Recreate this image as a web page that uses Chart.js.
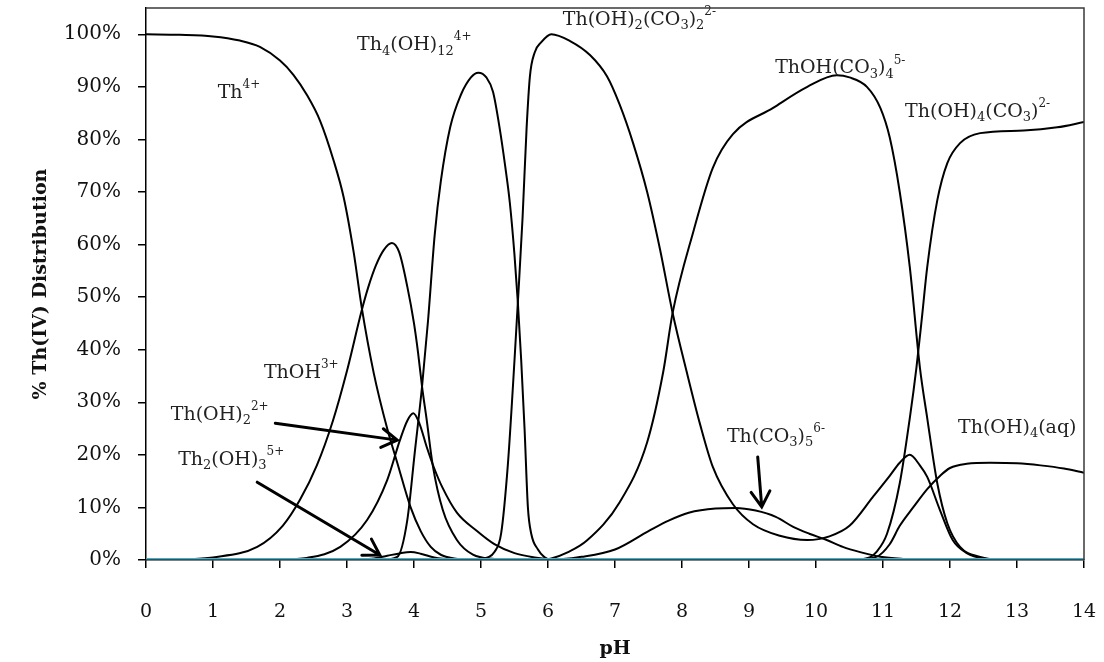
<!DOCTYPE html>
<html><head><meta charset="utf-8">
<script src="https://cdn.jsdelivr.net/npm/chart.js@4.4.1/dist/chart.umd.min.js"></script>
<style>html,body{margin:0;padding:0;background:#fff}</style>
</head><body>
<canvas id="c" width="1104" height="662"></canvas>
<script>
// ---- data (pH, % of Th(IV)) ----
const xTicks = [0,1,2,3,4,5,6,7,8,9,10,11,12,13,14];
const yTicks = [0,10,20,30,40,50,60,70,80,90,100];

const phTh4 = [0,0.5,1.0,1.4,1.7,2.0,2.2,2.4,2.6,2.8,2.95,3.1,3.22,3.4,3.6,3.75,3.95,4.1,4.25,4.4,4.6,5.0,14];
const vTh4  = [100,99.9,99.6,98.8,97.6,95,92.3,88.5,83.5,76,69,58.5,48,35.5,25,18.5,10,5.5,2.5,1,0.3,0,0];

const phThOH = [0,0.5,1.0,1.66,2.04,2.3,2.55,2.79,3.0,3.22,3.32,3.43,3.55,3.67,3.78,3.9,4.0,4.06,4.12,4.19,4.28,4.43,4.64,4.88,5.2,5.6,14];
const vThOH  = [0,0.1,0.5,2.5,6.5,11.5,18,26.5,36,47.5,52,56,59,60.3,58.5,52,45,39.5,33,26.6,18,9.5,3.8,1,0.2,0,0];

const phThOH2 = [0,2.0,2.4,2.9,3.3,3.6,3.79,3.9,3.99,4.08,4.19,4.3,4.42,4.64,4.94,5.2,5.5,5.8,6.1,6.5,14];
const vThOH2  = [0,0.1,0.4,2.5,7.6,15.2,22.8,26.5,27.9,26,21.5,17.5,13.9,9,5.5,3,1.3,0.5,0.1,0,0];

const phTh2OH3 = [0,3.0,3.4,3.6,3.8,3.95,4.1,4.3,4.6,5.0,14];
const vTh2OH3  = [0,0,0.3,0.8,1.3,1.5,1.2,0.5,0.1,0,0];

const phTh4OH12 = [0,3.5,3.75,3.9,4.01,4.12,4.21,4.31,4.4,4.54,4.7,4.85,4.96,5.08,5.18,5.28,5.36,5.43,5.5,5.55,5.6,5.65,5.7,5.75,5.85,5.95,6.05,14];
const vTh4OH12  = [0,0,0.6,7.6,20.3,33,45.6,62,72,82.3,88.5,91.8,92.7,91.8,89,82,75,68,58,49,38,25,10,5,2,0.5,0,0];

const phThOH2CO3 = [0,4.9,5.1,5.2,5.3,5.4,5.5,5.55,5.62,5.68,5.73,5.8,5.9,6.05,6.33,6.63,6.88,7.07,7.27,7.48,7.67,7.86,8.07,8.27,8.46,8.76,9.06,9.46,9.87,10.2,10.5,10.85,11.1,11.25,11.4,11.55,11.66,11.85,12.04,12.25,12.5,13,14];
const vThOH2CO3  = [0,0,0.5,1.5,5,18,38,49,65,82,92,96.5,98.5,100,98.7,96,92,86.6,79.3,70,59.2,47,35.8,25.8,17.7,10.6,6.8,4.6,3.8,4.5,6.5,12,16,18.5,20,18,15.8,9.5,3.8,1.3,0.3,0,0];

const phThOHCO34 = [0,5.9,6.05,6.3,6.58,7.07,7.48,7.72,7.86,8.17,8.46,8.76,9.36,9.87,10.31,10.5,10.76,10.96,11.1,11.25,11.4,11.55,11.66,11.81,11.96,12.15,12.45,12.8,14];
const vThOHCO34  = [0,0,0.3,1.5,3.7,11,22.4,35.8,47,62.5,74.6,81,86,90,92.2,91.8,90,86,80.4,70,55.7,36.7,27,14.6,7,2.5,0.6,0,0];

const phThCO35 = [0,6.0,6.5,7.0,7.5,7.8,8.1,8.5,8.8,9.1,9.4,9.66,9.9,10.16,10.4,10.66,10.96,11.3,11.8,14];
const vThCO35  = [0,0,0.6,2,5.5,7.5,9,9.8,9.9,9.4,8.2,6.3,5,3.8,2.5,1.5,0.6,0.2,0,0];

const phThOH4CO3 = [0,10.5,10.8,10.9,11.06,11.25,11.4,11.5,11.58,11.66,11.81,11.96,12.15,12.45,13.1,13.6,14];
const vThOH4CO3  = [0,0,0.5,1.5,5,14.6,27,36.7,46,55.7,68.4,75.5,79.3,81.2,81.7,82.3,83.3];

const phThOH4aq = [0,10.5,10.9,11.1,11.25,11.45,11.66,11.85,12.0,12.25,12.6,13.0,13.35,13.7,14];
const vThOH4aq  = [0,0,0.6,3,6.5,10,13.5,16,17.5,18.3,18.5,18.4,18,17.4,16.6];

const phOther = [0,14];
const vOther  = [0.25,0.25];

// ---- annotations (pH, %) ----
const speciesLabels = [
  {t:'Th^{4+}', x:1.07, y:88.8},
  {t:'Th_{4}(OH)_{12}^{4+}', x:3.15, y:97.9},
  {t:'Th(OH)_{2}(CO_{3})_{2}^{2-}', x:6.22, y:102.7},
  {t:'ThOH(CO_{3})_{4}^{5-}', x:9.39, y:93.5},
  {t:'Th(OH)_{4}(CO_{3})^{2-}', x:11.33, y:85.2},
  {t:'ThOH^{3+}', x:1.76, y:35.6},
  {t:'Th(OH)_{2}^{2+}', x:0.37, y:27.6},
  {t:'Th_{2}(OH)_{3}^{5+}', x:0.48, y:19.0},
  {t:'Th(CO_{3})_{5}^{6-}', x:8.67, y:23.4},
  {t:'Th(OH)_{4}(aq)', x:12.12, y:25.1}
];
const arrows = [
  {x1:1.93, y1:26.0, x2:3.75, y2:22.8},
  {x1:1.66, y1:14.8, x2:3.49, y2:0.95},
  {x1:9.13, y1:19.6, x2:9.19, y2:10.1}
];

const FONT = "'DejaVu Serif', serif";

function pts(xs, ys){ return xs.map((x,i)=>({x:x, y:ys[i]})); }
function ds(xs, ys, color, w){
  return {data:pts(xs,ys), borderColor:color, borderWidth:w, pointRadius:0,
          showLine:true, fill:false, cubicInterpolationMode:'monotone'};
}
function noPad(s){ s.paddingTop = 0; s.paddingBottom = 0; s.paddingLeft = 0; s.paddingRight = 0; }

const frame = {
  id:'frame',
  afterDraw(chart){
    const {ctx, chartArea:a} = chart;
    ctx.save();
    ctx.strokeStyle = '#3a3a3a';
    ctx.lineWidth = 1.5;
    ctx.beginPath();
    ctx.moveTo(a.left, a.top); ctx.lineTo(a.right, a.top); ctx.lineTo(a.right, a.bottom);
    ctx.stroke();
    ctx.restore();
  }
};

function drawRich(ctx, str, x, y){
  const re = /(_\{[^}]*\}|\^\{[^}]*\}|[^_^]+)/g;
  const parts = str.match(re);
  let cx = x;
  for (const p of parts){
    if (p.startsWith('_{')){
      ctx.font = "13px " + FONT;
      const s = p.slice(2,-1);
      ctx.fillText(s, cx, y + 6);
      cx += ctx.measureText(s).width;
    } else if (p.startsWith('^{')){
      ctx.font = "12px " + FONT;
      const s = p.slice(2,-1);
      ctx.fillText(s, cx, y - 8);
      cx += ctx.measureText(s).width;
    } else {
      ctx.font = "19px " + FONT;
      ctx.fillText(p, cx, y);
      cx += ctx.measureText(p).width;
    }
  }
}

const annot = {
  id:'annot',
  afterDatasetsDraw(chart){
    const {ctx, scales:{x, y}} = chart;
    ctx.save();
    ctx.fillStyle = '#222';
    ctx.textBaseline = 'middle';
    ctx.textAlign = 'left';
    for (const l of speciesLabels){
      drawRich(ctx, l.t, x.getPixelForValue(l.x), y.getPixelForValue(l.y));
    }
    ctx.strokeStyle = '#000';
    ctx.lineWidth = 3;
    ctx.lineCap = 'round';
    for (const a of arrows){
      const x1 = x.getPixelForValue(a.x1), y1 = y.getPixelForValue(a.y1);
      const x2 = x.getPixelForValue(a.x2), y2 = y.getPixelForValue(a.y2);
      const ang = Math.atan2(y2-y1, x2-x1);
      const L = 18, sp = 0.55;
      ctx.beginPath();
      ctx.moveTo(x1,y1); ctx.lineTo(x2,y2);
      ctx.moveTo(x2 - L*Math.cos(ang-sp), y2 - L*Math.sin(ang-sp));
      ctx.lineTo(x2,y2);
      ctx.lineTo(x2 - L*Math.cos(ang+sp), y2 - L*Math.sin(ang+sp));
      ctx.stroke();
    }
    ctx.restore();
  }
};

new Chart(document.getElementById('c'), {
  type:'scatter',
  data:{datasets:[
    ds(phOther, vOther, '#4BACC6', 1.5),
    ds(phTh4, vTh4, '#000', 2),
    ds(phThOH, vThOH, '#000', 2),
    ds(phThOH2, vThOH2, '#000', 2),
    ds(phTh2OH3, vTh2OH3, '#000', 2),
    ds(phTh4OH12, vTh4OH12, '#000', 2),
    ds(phThOH2CO3, vThOH2CO3, '#000', 2),
    ds(phThOHCO34, vThOHCO34, '#000', 2),
    ds(phThCO35, vThCO35, '#000', 2),
    ds(phThOH4CO3, vThOH4CO3, '#000', 2),
    ds(phThOH4aq, vThOH4aq, '#000', 2)
  ]},
  options:{
    responsive:false, animation:false, devicePixelRatio:1,
    layout:{autoPadding:false, padding:{top:8, right:20, left:0, bottom:0}},
    plugins:{legend:{display:false}, tooltip:{enabled:false}},
    scales:{
      x:{type:'linear', min:0, max:14,
         afterFit(s){ s.height = 102; noPad(s); },
         afterBuildTicks(s){ s.ticks = xTicks.map(v=>({value:v})); },
         border:{display:true, color:'#000', width:1.5},
         grid:{display:true, drawOnChartArea:false, drawTicks:true, tickLength:8, color:'#000', lineWidth:1.5},
         ticks:{color:'#111', font:{family:FONT, size:19}, padding:33, maxRotation:0, callback:v=>String(v)},
         title:{display:true, text:'pH', color:'#111', font:{family:FONT, size:19, weight:'bold'}, padding:{top:0,bottom:2}}
      },
      y:{type:'linear', min:0, max:105,
         afterFit(s){ s.width = 146; noPad(s); },
         afterBuildTicks(s){ s.ticks = yTicks.map(v=>({value:v})); },
         border:{display:true, color:'#000', width:1.5},
         grid:{display:true, drawOnChartArea:false, drawTicks:true, tickLength:8, color:'#000', lineWidth:1.5},
         ticks:{color:'#111', font:{family:FONT, size:20}, padding:17, callback:v=>v+'%'},
         title:{display:true, text:'% Th(IV) Distribution', color:'#111', font:{family:FONT, size:19, weight:'bold'}, padding:{top:30,bottom:0}}
      }
    }
  },
  plugins:[frame, annot]
});
</script>
</body></html>
